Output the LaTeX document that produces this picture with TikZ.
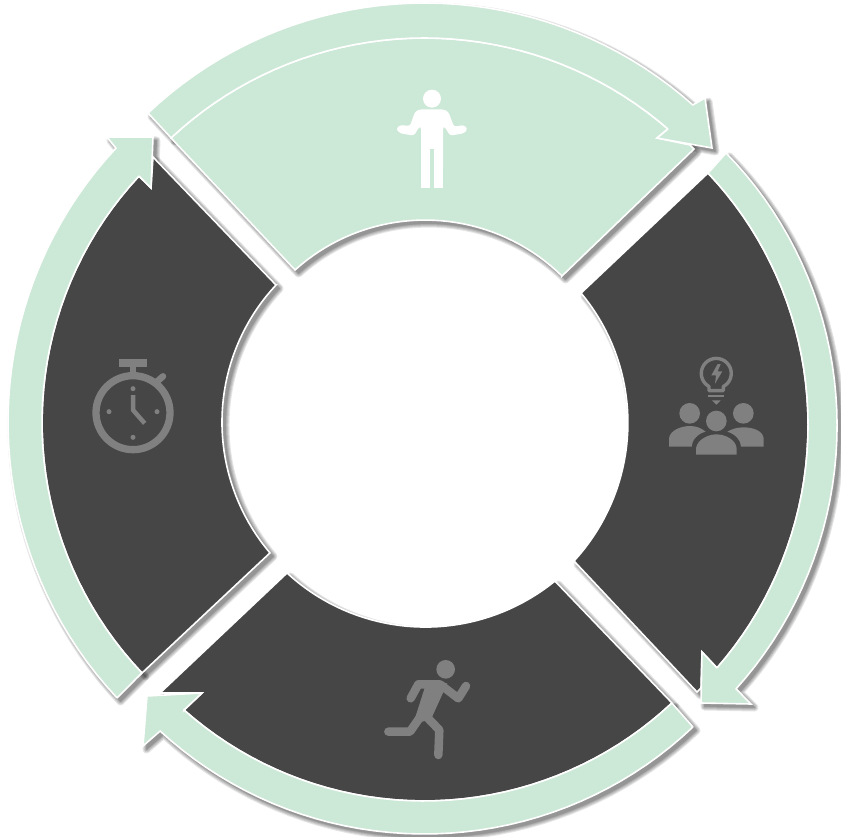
\documentclass[tikz,border=0pt]{standalone}
\definecolor{mint}{HTML}{CCE8D6}
\definecolor{darkseg}{HTML}{464646}
\definecolor{icongray}{HTML}{808080}
\newcommand\arcp[5]{\pgfextra{%
  \pgfmathsetmacro\aA{atan2(420-(#2),(#1)-423)}%
  \pgfmathsetmacro\aB{atan2(420-(#4),(#3)-423)}%
  \pgfmathsetmacro\dA{mod(\aB-\aA+720+180,360)-180}%
  \pgfmathsetmacro\rA{veclen((#1)-423,(#2)-420)}%
  \pgfmathsetmacro\rB{veclen((#3)-423,(#4)-420)}%
  \pgfmathsetmacro\rC{#5-(\rA+\rB)/2}}%
  -- plot[variable=\u,domain=0:1,samples=40]
  ({423+(\rA+(\rB-\rA)*\u+4*\u*(1-\u)*\rC)*cos(\aA+\dA*\u)},
   {420-(\rA+(\rB-\rA)*\u+4*\u*(1-\u)*\rC)*sin(\aA+\dA*\u)})}
% segment paths
\def\secTop{(171,138) \arcp{171}{138}{668}{129}{382} -- (657,138) -- (690,145) -- (694,149) -- (562,276) \arcp{562}{276}{295}{270}{200} -- cycle}
\def\bandTop{(148,113) \arcp{148}{113}{693}{105}{417} -- (705,98) -- (712,148) -- (657,138) -- (668,129) \arcp{668}{129}{171}{138}{382} -- cycle}
\def\secRight{(708,173) \arcp{708}{173}{717}{668}{385} -- (702,652) -- (701,688) -- (697,692) -- (574,561) \arcp{574}{561}{581}{293}{205} -- cycle}
\def\bandRight{(726,153) \arcp{726}{153}{736}{689}{414} -- (751,704) -- (701,703) -- (702,652) -- (717,668) \arcp{717}{668}{708}{173}{385} -- cycle}
\def\secBottom{(672,703) \arcp{672}{703}{184}{710}{381} -- (202,693) -- (160,693) -- (287,573) \arcp{287}{573}{555}{581}{207} -- cycle}
\def\bandBottom{(693,727) \arcp{693}{727}{160}{731}{414} -- (143,746) -- (147,696) -- (202,693) -- (184,710) \arcp{184}{710}{672}{703}{381} -- cycle}
\def\secLeft{(142,673) \arcp{142}{673}{139}{176}{381} -- (151,188) -- (153,157) -- (276,285) \arcp{276}{285}{270}{553}{201} -- cycle}
\def\bandLeft{(117,698) \arcp{117}{698}{116}{148}{415} -- (107,137) -- (153,137) -- (151,188) -- (139,176) \arcp{139}{176}{142}{673}{381} -- cycle}
\tikzset{
  shadowpass/.style={fill=black,draw=black,line join=round,line width=#1},
  greenseg/.style={fill=mint,draw=white,line width=1.6pt,line join=miter},
  darksegm/.style={fill=darkseg,draw=white,line width=1.6pt,line join=miter},
  iconlimb/.style={line width=#1,line cap=round,line join=round},
  iconwhite/.style={fill=white,draw=none},
  icongrey/.style={fill=icongray,draw=none},
}
\newcommand\onepass[2]{\begin{scope}[transparency group,opacity=.1]\path[shadowpass=#1] #2;\end{scope}}
\newcommand\dropshadow[1]{%
  \onepass{8pt}{#1}\onepass{6pt}{#1}\onepass{4pt}{#1}\onepass{2pt}{#1}\onepass{.5pt}{#1}}
\begin{document}
\begin{tikzpicture}[x=1pt,y=-1pt]
\useasboundingbox (0,0) rectangle (841,837);
\begin{scope}[shift={(3.5,3.5)}]
  \dropshadow{\bandTop}
  \dropshadow{\secTop}
  \dropshadow{\bandRight}
  \dropshadow{\bandBottom}
  \dropshadow{\bandLeft}
  \dropshadow{\secRight}
  \dropshadow{\secBottom}
  \dropshadow{\secLeft}
\end{scope}
\path[greenseg] \secTop;
\path[darksegm] \secRight;
\path[darksegm] \secBottom;
\path[darksegm] \secLeft;
\path[greenseg] \bandTop;
\path[greenseg] \bandRight;
\path[greenseg] \bandBottom;
\path[greenseg] \bandLeft;
% person icon
\begin{scope}[shift={(360,70)},scale=1/3]
  \fill[iconwhite] (216,86) circle (27);
  \fill[iconwhite,rounded corners=2.5pt] (183,300) -- (183,170) -- (178,170) -- (162,197) -- (120,190) -- (108,177) -- (120,165) -- (150,168) -- (165,125) -- (180,118) -- (250,118) -- (265,125) -- (282,170) -- (312,165) -- (323,177) -- (312,190) -- (270,197) -- (254,170) -- (249,170) -- (249,300) -- cycle;
  \fill[iconwhite] (183,354) -- (183,230) -- (209,230) -- (209,354) -- cycle;
  \fill[iconwhite] (222,354) -- (222,230) -- (249,230) -- (249,354) -- cycle;
  \fill[mint] (209,237) rectangle (222,354);
\end{scope}
% people and bulb icon
\begin{scope}[shift={(640,340)},scale=1/3]
  \draw[icongray,line width=3.4pt,line join=round] (207,152) -- (207,140) -- (197,132) arc[start angle=135,end angle=405,radius=45] -- (250,140) -- (250,152) -- cycle;
  \draw[icongray,line width=2.6pt] (205,168) -- (252,168);
  \fill[icongrey] (216,181) -- (242,181) -- (229,194) -- cycle;
  \fill[icongrey] (233,72) -- (214,106) -- (228,106) -- (225,131) -- (247,94) -- (233,94) -- (242,72) -- cycle;
  \fill[icongrey] (149,220) circle (31);
  \fill[icongrey] (310,220) circle (31);
  \fill[icongrey] (229,243) circle (31);
  \fill[icongrey] (87,320) -- (87,295) .. controls (90,270) and (125,258) .. (150,258) .. controls (170,258) and (185,265) .. (197,275) .. controls (175,280) and (155,300) .. (155,320) -- cycle;
  \fill[icongrey] (371,320) -- (371,295) .. controls (368,270) and (335,262) .. (310,262) .. controls (292,262) and (275,267) .. (262,275) .. controls (285,282) and (303,300) .. (303,320) -- cycle;
  \fill[icongrey] (168,344) -- (168,325) .. controls (172,298) and (205,283) .. (229,283) .. controls (255,283) and (287,298) .. (290,325) -- (290,344) -- cycle;
\end{scope}
% runner icon
\begin{scope}[shift={(360,640)},scale=1/3]
  \fill[icongrey] (257,88) circle (28);
  \draw[icongray,iconlimb=8.5pt] (152,175) -- (175,133) -- (240,133) -- (295,175) -- (318,138);
  \fill[icongrey] (200,125) -- (262,130) -- (212,240) -- (160,250) -- cycle;
  \draw[icongray,iconlimb=8.5pt] (85,275) -- (150,275) -- (195,210);
  \draw[icongray,iconlimb=8.5pt] (190,220) -- (238,270) -- (235,345);
\end{scope}
% stopwatch icon
\begin{scope}[shift={(70,340)},scale=1/3]
  \draw[icongray,line width=7.3pt] (189,218) circle (111);
  \fill[icongrey] (146,58) rectangle (232,82);
  \fill[icongrey] (180,80) rectangle (198,105);
  \draw[icongray,iconlimb=6.5pt] (262,124) -- (279,109);
  \fill[icongrey] (189,146) circle (7.5);
  \fill[icongrey] (117,215) circle (7.5);
  \fill[icongrey] (261,215) circle (7.5);
  \fill[icongrey] (189,292) circle (7.5);
  \draw[icongray,line width=4.5pt,line join=round] (189,165) -- (189,210) -- (224,250);
\end{scope}
\end{tikzpicture}
\end{document}
